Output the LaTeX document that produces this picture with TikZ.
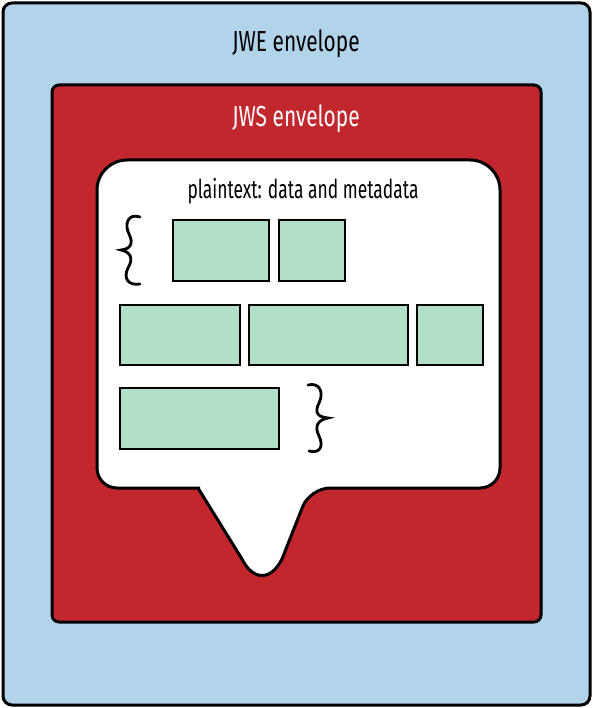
\documentclass[tikz,border=0pt]{standalone}
\usepackage{fontspec}
\setmainfont{Fira Sans}[FakeStretch=0.72]
\newfontfamily\plainfont{Fira Sans}[FakeStretch=0.67]
\usepackage{tikz}
\definecolor{jweblue}{HTML}{B1D4EA}
\definecolor{jwsred}{HTML}{C1272D}
\definecolor{fieldgreen}{HTML}{B2DFC8}

\begin{document}
\begin{tikzpicture}[x=1pt,y=-1pt,
  envelope/.style={draw=black,line width=3pt},
  field/.style={draw=black,fill=fieldgreen,line width=2.5pt},
  brace/.style={draw=black,line width=2.8pt,line cap=round},
  title/.style={font=\fontsize{29}{31}\selectfont,inner sep=0pt},
  label/.style={font=\plainfont\fontsize{26}{28}\selectfont,inner sep=0pt}]
            \useasboundingbox (0,0) rectangle (593,708);
            % the two envelopes
            \fill[jweblue,rounded corners=9] (3,3) rectangle (590,705);
            \draw[envelope,rounded corners=9] (3,3) rectangle (590,705);
            \fill[jwsred,rounded corners=7] (52,85) rectangle (541,622);
            \draw[envelope,rounded corners=7] (52,85) rectangle (541,622);
            \node[title] (jwe) at (296,44) {JWE envelope};
            \node[title,text=white] (jws) at (296,119) {JWS envelope};
            % speech bubble
            \draw[envelope,fill=white] (200,488) [rounded corners=20] -- (97,488) [rounded corners=30] -- (97,160) -- (500,160) [rounded corners=20] -- (500,488) -- (310,488) [sharp corners] -- (282,559) .. controls (271,581) and (253,581) .. (242,559) -- (198,488) -- cycle;
            \node[label] (plain) at (303,191) {plaintext: data and metadata};
            % fields
            \draw[field] (173,220) rectangle (269,281);
            \draw[field] (279,220) rectangle (345,281);
            \draw[field] (120,305) rectangle (240,365);
            \draw[field] (249,305) rectangle (408,365);
            \draw[field] (417,305) rectangle (483,365);
            \draw[field] (120,388) rectangle (279,449);
            % braces
            \draw[brace] (140,217) .. controls (128,213) and (124,224) .. (129,234) .. controls (134,244) and (130,249) .. (121,250) .. controls (130,252) and (134,258) .. (128,268) .. controls (123,278) and (128,286) .. (140,284);
            \draw[brace] (308,385) .. controls (320,382) and (324,393) .. (319,403) .. controls (314,413) and (318,417) .. (328,418) .. controls (318,420) and (314,426) .. (319,436) .. controls (324,446) and (320,454) .. (309,451);
\end{tikzpicture}
\end{document}
